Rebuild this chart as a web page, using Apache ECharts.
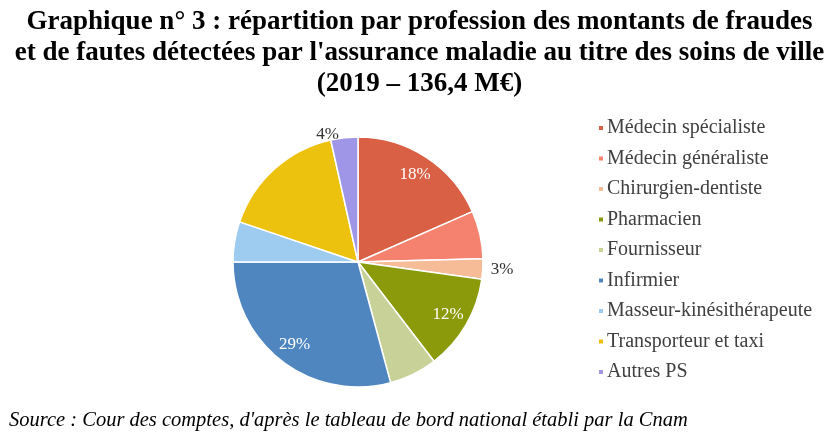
<!DOCTYPE html>
<html lang="fr">
<head>
    <meta charset="UTF-8">
    <title>Graphique n° 3</title>
    <script src="https://cdn.jsdelivr.net/npm/echarts@6/dist/echarts.min.js"></script>
    <style>
        html, body {
            margin: 0;
            padding: 0;
            background: #fff;
        }
        #chart {
            width: 839px;
            height: 447px;
        }
    </style>
</head>
<body>
<div id="chart"></div>
<script>
    // share of fraud amounts by profession, in %
    const professions = [
        'Médecin spécialiste',
        'Médecin généraliste',
        'Chirurgien-dentiste',
        'Pharmacien',
        'Fournisseur',
        'Infirmier',
        'Masseur-kinésithérapeute',
        'Transporteur et taxi',
        'Autres PS'
    ];
    const shares = [18.4, 6.2, 2.6, 12.4, 6.2, 29.2, 5.2, 16.3, 3.5];
    const sliceColors = ['#D95F45', '#F4826E', '#F6BC98', '#8A9A0B', '#C8D197', '#4F86C0', '#9ECBF0', '#EDC20E', '#A096E8'];
    // which labels are visible and where
    const labelMode = ['inside', 'none', 'outside', 'inside', 'none', 'inside', 'none', 'none', 'outside'];

    const titleLines = [
        'Graphique n° 3 : répartition par profession des montants de fraudes',
        "et de fautes détectées par l'assurance maladie au titre des soins de ville",
        '(2019 – 136,4 M€)'
    ];
    const sourceText = "Source : Cour des comptes, d'après le tableau de bord national établi par la Cnam";

    const chart = echarts.init(document.getElementById('chart'), null, {renderer: 'canvas'});

    const R = 125;
    const center = [358, 262];

    const sliceData = professions.map((name, i) => ({
        name: name,
        value: shares[i],
        itemStyle: {color: sliceColors[i]}
    }));

    const labelData = professions.map((name, i) => ({
        name: name,
        value: shares[i],
        label: labelMode[i] === 'none' ? {show: false} : {
            show: true,
            position: labelMode[i],
            color: labelMode[i] === 'inside' ? '#fff' : '#333'
        }
    }));

    const option = {
        backgroundColor: '#fff',
        animation: false,
        title: {
            text: titleLines.join('\n'),
            left: 'center',
            top: 2,
            textStyle: {
                fontFamily: 'Liberation Serif',
                fontWeight: 'bold',
                fontSize: 27,
                lineHeight: 31,
                color: '#000'
            }
        },
        legend: {
            orient: 'vertical',
            left: 592,
            top: 113,
            itemWidth: 6,
            itemHeight: 6,
            itemGap: 10.5,
            icon: 'rect',
            selectedMode: false,
            data: professions,
            textStyle: {
                fontFamily: 'Liberation Serif',
                fontSize: 20,
                color: '#404040',
                padding: [0, 0, 0, -2]
            }
        },
        graphic: [{
            type: 'text',
            left: 9,
            top: 411,
            style: {
                text: sourceText,
                font: 'italic 20.5px "Liberation Serif"',
                fill: '#000'
            }
        }],
        series: [
            {
                name: 'slices',
                type: 'pie',
                center: center,
                radius: [0, R],
                startAngle: 90,
                silent: true,
                label: {show: false},
                labelLine: {show: false},
                itemStyle: {borderColor: '#fff', borderWidth: 1.5},
                data: sliceData
            },
            {
                name: 'labels',
                type: 'pie',
                center: center,
                radius: [R * 0.62, R],
                startAngle: 90,
                silent: true,
                itemStyle: {color: 'rgba(0,0,0,0)'},
                label: {
                    formatter: p => Math.round(p.percent) + '%',
                    fontFamily: 'Liberation Serif',
                    fontSize: 17
                },
                labelLine: {show: false, length: 3, length2: 0},
                data: labelData
            }
        ]
    };

    chart.setOption(option);
</script>
</body>
</html>
